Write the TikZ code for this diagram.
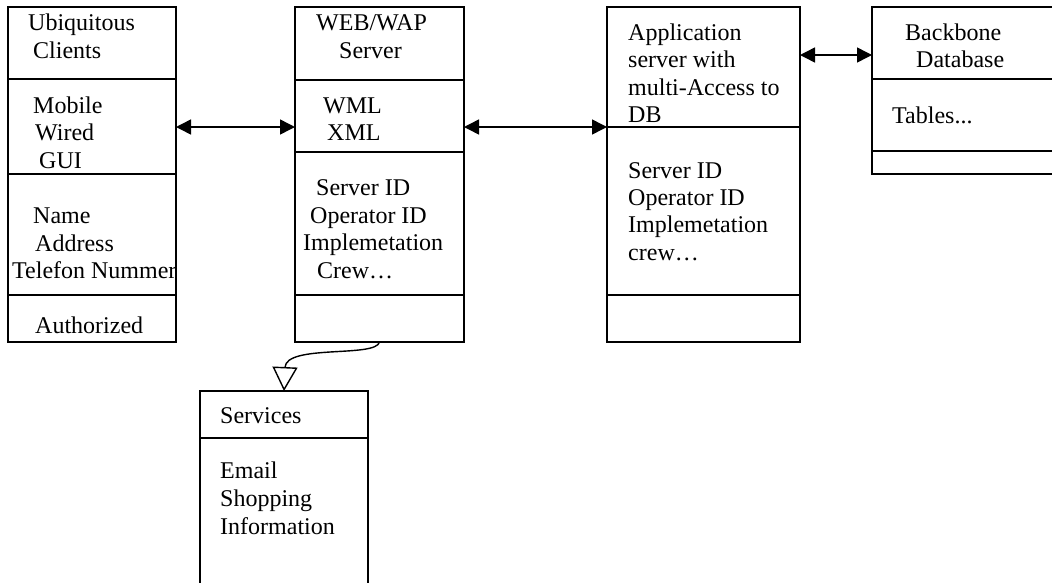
\documentclass[tikz,border=0pt]{standalone}
\usepackage{fontspec}
\setmainfont{Liberation Serif}
\usetikzlibrary{arrows.meta}
\begin{document}
\begin{tikzpicture}[x=1pt,y=-1pt,
  box/.style={draw, line width=1.6pt, inner sep=0pt, outer sep=0pt, anchor=north west},
  sep/.style={line width=1.6pt},
  txt/.style={anchor=base west, inner sep=0pt, font=\fontsize{24}{28}\selectfont},
  conn/.style={line width=1.5pt, {Triangle[length=15pt,width=15pt]}-{Triangle[length=15pt,width=15pt]}},
  gen/.style={line width=1.4pt, -{Triangle[open,length=24pt,width=25pt,line width=1.4pt]}}]
\useasboundingbox (0,0) rectangle (1052,582);
\clip (0,0) rectangle (1052,582);

% class boxes
\node[box, minimum width=168pt, minimum height=335pt] (client) at (8,7) {};
\node[box, minimum width=169pt, minimum height=335pt] (web) at (295,7) {};
\node[box, minimum width=193pt, minimum height=335pt] (app) at (607,7) {};
\node[box, minimum width=200pt, minimum height=167pt] (db) at (872,7) {};
\node[box, minimum width=168pt, minimum height=220pt] (services) at (200,391) {};

% compartment dividers
\foreach \y in {79,174,295} \draw[sep] (client.west |- 0,\y) -- (client.east |- 0,\y);
\foreach \y in {80,152,295} \draw[sep] (web.west |- 0,\y) -- (web.east |- 0,\y);
\foreach \y in {127,295} \draw[sep] (app.west |- 0,\y) -- (app.east |- 0,\y);
\foreach \y in {79,151} \draw[sep] (db.west |- 0,\y) -- (db.east |- 0,\y);
\draw[sep] (services.west |- 0,438) -- (services.east |- 0,438);

% Ubiquitous Clients
\node[txt] (c1) at (28,30) {Ubiquitous};
\node[txt] (c2) at (33,58) {Clients};
\node[txt] (c3) at (33,113) {Mobile};
\node[txt] (c4) at (35,140) {Wired};
\node[txt] (c5) at (39,168) {GUI};
\node[txt] (c6) at (33,223) {Name};
\node[txt] (c7) at (35,251) {Address};
\node[txt] (c8) at (12,278) {Telefon Nummer};
\node[txt] (c9) at (35,333) {Authorized};

% WEB/WAP Server
\node[txt] (w1) at (316,30) {WEB/WAP};
\node[txt] (w2) at (339,58) {Server};
\node[txt] (w3) at (323,113) {WML};
\node[txt] (w4) at (327,140) {XML};
\node[txt] (w5) at (316,195) {Server ID};
\node[txt] (w6) at (310,223) {Operator ID};
\node[txt] (w7) at (303,250) {Implemetation};
\node[txt] (w8) at (317,278) {Crew\ldots};

% Application server
\node[txt] (a1) at (628,40) {Application};
\node[txt] (a2) at (628,67) {server with};
\node[txt] (a3) at (628,95) {multi-Access to};
\node[txt] (a4) at (628,122) {DB};
\node[txt] (a5) at (628,178) {Server ID};
\node[txt] (a6) at (628,205) {Operator ID};
\node[txt] (a7) at (628,232) {Implemetation};
\node[txt] (a8) at (628,260) {crew\ldots};

% Backbone Database
\node[txt] (b1) at (905,40) {Backbone};
\node[txt] (b2) at (916,67) {Database};
\node[txt] (b3) at (892,123) {Tables...};

% Services
\node[txt] (s1) at (220,423) {Services};
\node[txt] (s2) at (220,478) {Email};
\node[txt] (s3) at (220,506) {Shopping};
\node[txt] (s4) at (220,534) {Information};

% associations
\draw[conn] (client.east |- 0,127) -- (web.west |- 0,127);
\draw[conn] (web.east |- 0,127) -- (app.west |- 0,127);
\draw[conn] (app.east |- 0,55) -- (db.west |- 0,55);

% generalisation
\draw[gen] (web.south) .. controls (376,358) and (286,344) .. (services.north);
\end{tikzpicture}
\end{document}
